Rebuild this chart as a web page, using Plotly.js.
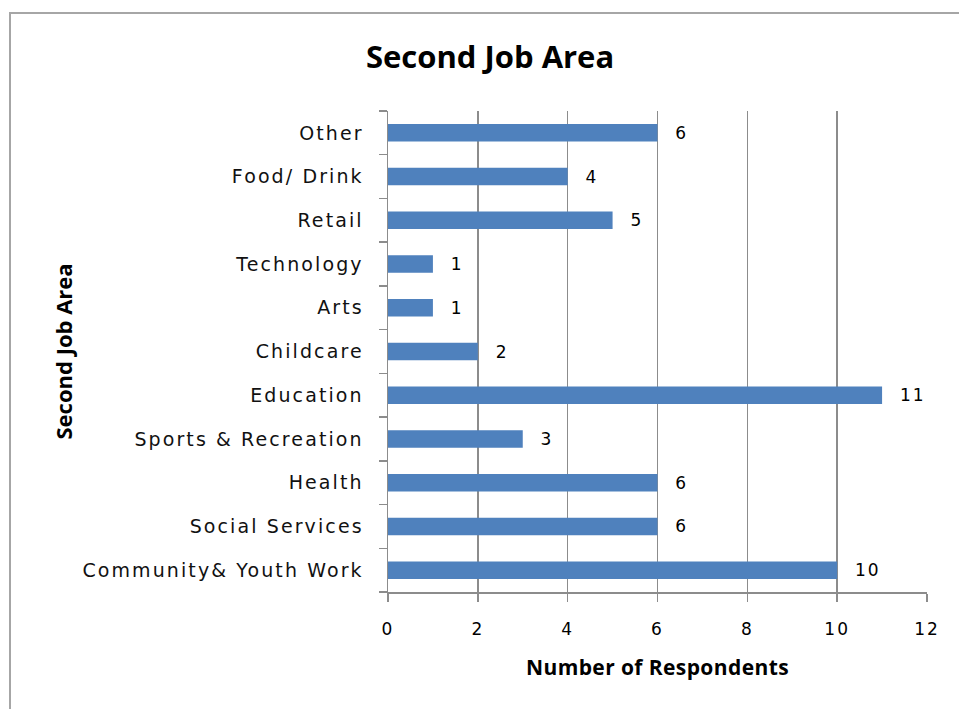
<!DOCTYPE html>
<html>
<head>
<meta charset="utf-8">
<script src="https://cdn.plot.ly/plotly-3.0.1.min.js"></script>
<style>
html,body{margin:0;padding:0;background:#fff;overflow:hidden;}
#wrap{position:relative;width:959px;height:709px;}
#chart{position:absolute;left:0;top:0;width:959px;height:709px;}
#frame{position:absolute;left:9px;top:12px;width:980px;height:720px;border-top:2.5px solid #a6a6a6;border-left:2.5px solid #a6a6a6;pointer-events:none;}
.ytick text{letter-spacing:2.1px;}
.xtick text{letter-spacing:2px;}
text.bartext{letter-spacing:2px;}
.g-xtitle text{letter-spacing:0.4px;}
</style>
</head>
<body>
<div id="wrap">
<div id="chart"></div>
<div id="frame"></div>
</div>
<script>
// Categories bottom to top
var categories = ["Community& Youth Work", "Social Services", "Health", "Sports & Recreation", "Education", "Childcare", "Arts", "Technology", "Retail", "Food/ Drink", "Other"];
var respondents = [10, 6, 6, 3, 11, 2, 1, 1, 5, 4, 6];
var xTicks = [0, 2, 4, 6, 8, 10, 12];

var trace = {
  type: 'bar',
  orientation: 'h',
  y: categories,
  x: respondents,
  marker: {color: '#4F81BD', line: {width: 0}},
  texttemplate: '\u00a0\u00a0%{x}',
  textposition: 'outside',
  constraintext: 'none',
  cliponaxis: false,
  textfont: {family: 'DejaVu Sans', size: 17, color: '#000'},
  hoverinfo: 'none'
};

var layout = {
  width: 959, height: 709,
  margin: {l: 388, r: 32, t: 111, b: 117},
  paper_bgcolor: 'rgba(0,0,0,0)', plot_bgcolor: 'rgba(0,0,0,0)',
  showlegend: false,
  bargap: 0.6,
  title: {
    text: '<b>Second Job Area</b>',
    font: {family: 'Open Sans', size: 31, color: '#000'},
    x: 0.511, xanchor: 'center', y: 0.92, yanchor: 'middle'
  },
  xaxis: {
    range: [0, 12],
    tickvals: xTicks,
    ticktext: xTicks.map(String),
    showgrid: true, gridcolor: '#8c8c8c', gridwidth: 1.5,
    zeroline: false,
    showline: true, linecolor: '#8c8c8c', linewidth: 1.5,
    ticks: 'outside', ticklen: 8, tickcolor: '#8c8c8c', tickwidth: 1.5,
    ticklabelstandoff: 13,
    tickfont: {family: 'DejaVu Sans', size: 17, color: '#000'},
    title: {text: '<b>Number of Respondents</b>', font: {family: 'Open Sans', size: 21, color: '#000'}, standoff: 22},
    fixedrange: true
  },
  yaxis: {
    type: 'category',
    categoryorder: 'array', categoryarray: categories,
    showgrid: false, zeroline: false,
    showline: true, linecolor: '#8c8c8c', linewidth: 1.5,
    ticks: 'outside', ticklen: 8, tickcolor: '#8c8c8c', tickwidth: 1.5,
    tickson: 'boundaries',
    ticklabelstandoff: 19,
    tickfont: {family: 'DejaVu Sans', size: 19, color: '#111'},
    automargin: false,
    fixedrange: true
  },
  annotations: [{
    text: '<b>Second Job Area</b>',
    xref: 'paper', yref: 'paper',
    x: (62 - 388) / 539, y: 0.5,
    xanchor: 'center', yanchor: 'middle',
    textangle: -90, showarrow: false,
    font: {family: 'Open Sans', size: 22, color: '#000'}
  }]
};

Plotly.newPlot('chart', [trace], layout, {staticPlot: true, displayModeBar: false});
</script>
</body>
</html>
